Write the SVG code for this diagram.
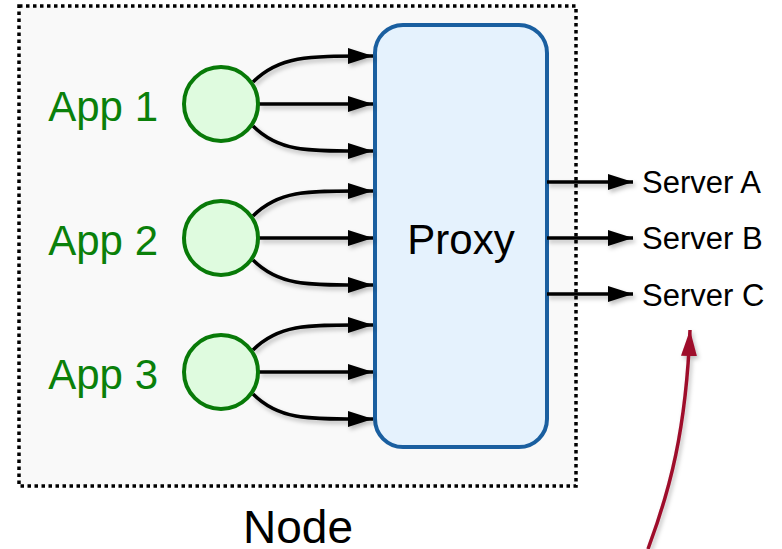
<svg xmlns="http://www.w3.org/2000/svg" width="782" height="549" viewBox="0 0 782 549">
<defs>
<style>
.lbl{font-family:"Liberation Sans",Arial,sans-serif;}
.app{font-size:42px;fill:#0a800a;text-anchor:end;}
.srv{font-size:31px;fill:#000;}
.circ{fill:#dffbdf;stroke:#087a08;stroke-width:4;}
.con{fill:none;stroke:#000;stroke-width:3.5;marker-end:url(#ah);}
</style>
<marker id="ah" viewBox="0 0 25 16" refX="25" refY="8" markerWidth="25" markerHeight="16" markerUnits="userSpaceOnUse" orient="auto">
<path d="M0,0 L25,8 L0,16 z" fill="#000"/>
</marker>
<marker id="ahr" viewBox="0 0 26 28" refX="26" refY="14" markerWidth="26" markerHeight="28" markerUnits="userSpaceOnUse" orient="auto">
<path d="M0,6 L26,14 L0,22 z" fill="#9e0c2c"/>
</marker>
<filter id="sh" x="-10%" y="-10%" width="130%" height="140%">
<feDropShadow dx="2" dy="3" stdDeviation="2" flood-color="#000" flood-opacity="0.25"/>
</filter>
</defs>
<g id="node">
<rect x="19" y="6" width="557" height="480" fill="#f9f9f9" stroke="#000" stroke-width="3.5" stroke-dasharray="3.5,3.5"/>
<text class="lbl" x="298" y="543" font-size="46" text-anchor="middle" fill="#000">Node</text>
</g>
<g id="proxy">
<rect x="375" y="25" width="172" height="422" rx="28" ry="28" fill="#e5f2fd" stroke="#1a5fa0" stroke-width="4"/>
<text class="lbl" x="461" y="254" font-size="42" text-anchor="middle" fill="#000">Proxy</text>
</g>
<g id="connectors" filter="url(#sh)">
<path class="con" d="M253,82 C280,55 310,56 373,56"/>
<path class="con" d="M259,104 L373,104"/>
<path class="con" d="M253,126 C280,153 310,151 373,151"/>
<path class="con" d="M253,216 C280,189 310,191 373,191"/>
<path class="con" d="M259,238 L373,238"/>
<path class="con" d="M253,260 C280,287 310,285 373,285"/>
<path class="con" d="M253,350 C280,323 310,325 373,325"/>
<path class="con" d="M259,372 L373,372"/>
<path class="con" d="M253,394 C280,421 310,419 373,419"/>
<path class="con" d="M547,182 L633,182"/>
<path class="con" d="M547,238 L633,238"/>
<path class="con" d="M547,294 L633,294"/>
<path d="M648,549 C670,490 686,430 690,330" fill="none" stroke="#9e0c2c" stroke-width="3.5" marker-end="url(#ahr)"/>
</g>
<g id="app1">
<circle class="circ" cx="221" cy="104" r="37"/>
<text class="lbl app" x="158" y="121">App 1</text>
</g>
<g id="app2">
<circle class="circ" cx="221" cy="238" r="37"/>
<text class="lbl app" x="158" y="255">App 2</text>
</g>
<g id="app3">
<circle class="circ" cx="221" cy="372" r="37"/>
<text class="lbl app" x="158" y="389">App 3</text>
</g>
<g id="serverA"><text class="lbl srv" x="642" y="193">Server A</text></g>
<g id="serverB"><text class="lbl srv" x="642" y="249">Server B</text></g>
<g id="serverC"><text class="lbl srv" x="642" y="306">Server C</text></g>
</svg>
